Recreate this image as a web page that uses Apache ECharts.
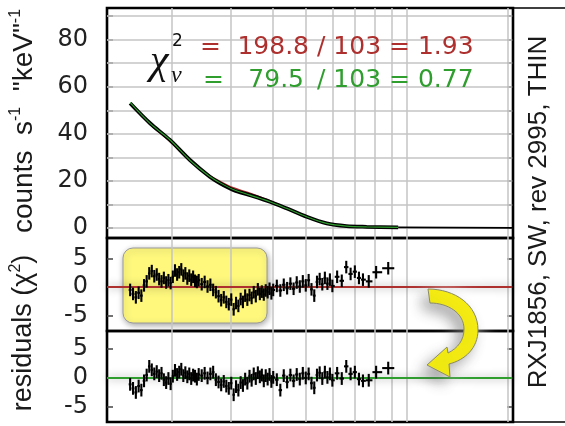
<!DOCTYPE html>
<html><head><meta charset="utf-8">
<script src="https://cdn.jsdelivr.net/npm/echarts@6/dist/echarts.min.js"></script>
<style>html,body{margin:0;padding:0;background:#fff}#c{width:565px;height:426px}</style>
</head><body><div id="c"></div>
<script>
// ---- data ----
const gridEnergies = [0.2,0.3,0.4,0.5,0.6,0.7,0.8,0.9,1,2];
const countGridValues = [0,10,20,30,40,50,60,70,80,90];
const countTickLabels = [0,20,40,60,80];
const residTickLabels = [-5,0,5];

const specEnergy = [0.150,0.172,0.197,0.226,0.259,0.278,0.304,0.341,0.391,0.438,0.503,0.577,0.661,0.759,0.942];
const specCounts = [53.0,44.5,37.4,28.9,21.8,19.0,16.2,14.0,11.2,8.4,4.8,2.0,0.85,0.55,0.3];
const modelRed   = [52.6,44.0,36.8,28.5,22.3,19.8,17.1,14.8,11.6,8.4,4.7,2.0,0.9,0.5,0.3];
const modelGreen = [53.2,44.4,37.5,28.8,21.9,19.2,16.4,14.0,11.2,8.4,4.8,2.0,0.85,0.5,0.3];
const tailEnergy = [0.942,2.07];
const tailCounts = [0.3,0.1];

const resEnergy = [
0.150,0.153,0.156,0.159,0.162,0.165,0.168,0.171,0.174,0.177,
0.180,0.183,0.186,0.189,0.192,0.195,0.198,0.201,0.204,0.207,
0.210,0.213,0.216,0.219,0.222,0.225,0.228,0.231,0.234,0.237,
0.240,
0.245,0.250,0.255,0.260,0.265,0.270,0.275,0.280,0.285,0.290,
0.295,0.300,0.305,0.310,0.315,0.320,0.325,0.330,0.335,0.340,
0.345,0.350,0.355,0.360,0.365,0.370,0.375,0.380,0.385,0.390,
0.395,0.400,
0.41,0.42,0.43,0.44,0.45,0.46,0.47,0.48,0.49,0.50,
0.51,0.52,0.53,0.54,0.55,0.56,0.57,0.58,0.59,0.60,
0.62,0.64,0.66,0.68,0.70,0.72,0.74,0.77,0.81,0.88];
const resRed = [
-0.5,-1.2,-1.8,-1.0,-1.5,0.3,1.0,2.4,2.8,1.9,
2.2,1.4,1.0,1.6,0.8,1.2,0.7,1.8,2.9,2.2,
2.6,3.1,2.0,2.4,1.5,2.0,1.3,1.8,1.1,0.9,
1.2,
0.5,0.9,0.1,0.4,-0.5,-0.9,-1.6,-2.3,-1.8,-2.6,
-3.0,-2.2,-3.9,-2.8,-3.3,-2.1,-2.6,-1.5,-2.2,-1.4,
-1.9,-0.9,-1.6,-0.4,-1.2,-0.8,-1.3,-0.6,-0.9,-0.3,
-1.1,-0.5,
0.2,-0.6,0.4,-0.2,0.6,-0.3,0.8,0.1,1.0,0.3,
1.2,-0.4,-1.5,0.9,1.4,0.5,1.6,0.6,1.3,0.2,
1.8,1.1,3.5,2.3,2.7,1.6,1.3,1.0,2.6,3.3];
const resGreen = [
-1.2,-1.9,-2.6,-1.5,-2.2,-0.6,0.4,1.9,1.3,0.6,
1.0,0.3,0.7,-0.4,-0.9,-0.2,-1.1,0.2,1.2,0.5,
0.9,1.4,0.3,0.8,0.1,0.6,-0.2,0.4,0.2,-0.3,
0.5,
0.3,0.7,-0.1,0.6,0.9,-0.4,-0.8,-1.3,-0.7,-1.5,
-1.9,-1.0,-3.0,-1.6,-2.2,-0.9,-1.4,-0.3,-1.0,0.2,
-0.5,0.6,-0.2,0.8,0.1,0.4,-0.6,0.3,-0.3,0.5,
-0.7,0.0,
-0.4,-2.2,0.3,-0.8,0.4,-0.6,0.5,-0.3,0.7,-0.1,
0.6,-1.0,-1.8,0.4,0.8,-0.2,0.9,0.0,0.6,-0.5,
0.7,-0.2,1.9,0.6,0.9,-0.3,-0.6,-0.5,0.9,1.6];

const chiRed = ['198.8','103','1.93'];
const chiGreen = ['79.5','103','0.77'];
const sideLabel = 'RXJ1856, SW, rev 2995, THIN';

// ---- styles ----
const RED = '#ad302e', GREEN = '#2f9e2f', GRIDC = '#c4c4c4';
const NUMFONT = 'DejaVu Sans';
const zip = (a, b) => a.map((v, i) => [v, b[i]]);

function errItem(energies) {
  return function (params, api) {
    const i = params.dataIndex, n = energies.length;
    const e = energies[i], r = api.value(1);
    let lo = i > 0 ? Math.sqrt(energies[i - 1] * e) : null;
    let hi = i < n - 1 ? Math.sqrt(energies[i + 1] * e) : null;
    if (lo === null) lo = e * e / hi;
    if (hi === null) hi = e * e / lo;
    const a = api.coord([lo, r]), b = api.coord([hi, r]);
    const c = api.coord([e, r - 1.1]), d = api.coord([e, r + 1.1]);
    const st = { stroke: '#000', lineWidth: 2.1 };
    return { type: 'group', children: [
      { type: 'line', shape: { x1: a[0], y1: a[1], x2: b[0], y2: b[1] }, style: st },
      { type: 'line', shape: { x1: c[0], y1: c[1], x2: d[0], y2: d[1] }, style: st }
    ]};
  };
}

const arrowPath = 'M428 289 C455 289 478 305 478 330 C478 348 465 360 449 364 L450 377 L427 365 L447 347 L448 353 C458 348 464 340 464 329 C464 313 448 303 430 303 Z';
function arrowItem() {
  return { type: 'group', children: [
    { type: 'path', shape: { pathData: arrowPath }, style: { fill: 'rgba(255,255,255,0.9)', shadowBlur: 22, shadowColor: 'rgba(255,255,255,1)' } },
    { type: 'path', shape: { pathData: arrowPath },
      style: { fill: '#f6ee12', stroke: '#8a8a6a', lineWidth: 1, shadowBlur: 14, shadowColor: 'rgba(0,0,0,0.35)', shadowOffsetX: -6, shadowOffsetY: 7 } }
  ]};
}

const gridCommon = { left: 107, width: 406, show: true, borderColor: '#000', borderWidth: 2.6, backgroundColor: 'transparent' };
const xCommon = { type: 'log', logBase: 10, min: 0.128, max: 2.07, axisLine: { show: false }, axisTick: { show: false }, axisLabel: { show: false }, splitLine: { show: false } };
function yAx(grid, min, max, labels, ticks, right) {
  return {
    type: 'value', gridIndex: grid, min: min, max: max, position: right ? 'right' : 'left',
    axisLine: { show: false }, splitLine: { show: false },
    axisTick: { show: true, inside: true, length: 6, customValues: ticks, lineStyle: { color: '#444', width: 1.5 } },
    axisLabel: right ? { show: false } : { show: true, customValues: labels, fontFamily: NUMFONT, fontSize: 24, color: '#222', margin: 19 }
  };
}
const vGrid = gridEnergies.map(e => ({ xAxis: e }));
const gridML = (extra) => ({ silent: true, symbol: 'none', z: 1, animation: false, label: { show: false },
  lineStyle: { color: GRIDC, width: 1.5, type: 'solid' }, data: vGrid.concat(extra || []) });
const zeroML = (color) => ({ silent: true, symbol: 'none', z: 2, animation: false, label: { show: false },
  lineStyle: { color: color, width: 2, type: 'solid', shadowBlur: 9, shadowColor: 'rgba(0,0,0,0.45)' }, data: [{ yAxis: 0 }] });

const supStyle = { fontFamily: 'Liberation Sans', fontSize: 16, lineHeight: 32, verticalAlign: 'top', fill: '#1a1a1a' };

const option = {
  animation: false,
  grid: [
    Object.assign({ top: 8, height: 230 }, gridCommon),
    Object.assign({ top: 238, height: 93 }, gridCommon),
    Object.assign({ top: 331, height: 91 }, gridCommon)
  ],
  xAxis: [0, 1, 2].map(g => Object.assign({ gridIndex: g }, xCommon)),
  yAxis: [
    yAx(0, -4.2, 93.4, countTickLabels, countGridValues, false),
    yAx(0, -4.2, 93.4, countTickLabels, countGridValues, true),
    yAx(1, -7.7, 8.6, residTickLabels, residTickLabels, false),
    yAx(1, -7.7, 8.6, residTickLabels, residTickLabels, true),
    yAx(2, -7.7, 8.0, residTickLabels, residTickLabels, false),
    yAx(2, -7.7, 8.0, residTickLabels, residTickLabels, true)
  ],
  series: [
    { type: 'line', xAxisIndex: 0, yAxisIndex: 0, data: [], markLine: gridML(countGridValues.map(v => ({ yAxis: v }))) },
    { type: 'line', xAxisIndex: 1, yAxisIndex: 2, data: [], markLine: gridML() },
    { type: 'line', xAxisIndex: 2, yAxisIndex: 4, data: [], markLine: gridML() },
    { type: 'line', xAxisIndex: 1, yAxisIndex: 2, data: [], markLine: zeroML(RED) },
    { type: 'line', xAxisIndex: 2, yAxisIndex: 4, data: [], markLine: zeroML(GREEN) },
    { type: 'line', xAxisIndex: 0, yAxisIndex: 0, z: 2, data: zip(specEnergy, modelRed), smooth: 0.3, showSymbol: false, lineStyle: { color: RED, width: 1.6 } },
    { type: 'line', xAxisIndex: 0, yAxisIndex: 0, z: 3, data: zip(specEnergy, specCounts), smooth: 0.3, showSymbol: false, lineStyle: { color: '#000', width: 3.8 } },
    { type: 'line', xAxisIndex: 0, yAxisIndex: 0, z: 3, data: zip(tailEnergy, tailCounts), showSymbol: false, lineStyle: { color: '#000', width: 1.6 } },
    { type: 'line', xAxisIndex: 0, yAxisIndex: 0, z: 4, data: zip(specEnergy, modelGreen), smooth: 0.3, showSymbol: false, lineStyle: { color: GREEN, width: 1.1 } },
    { type: 'custom', xAxisIndex: 1, yAxisIndex: 2, z: 3, clip: true, renderItem: errItem(resEnergy), data: zip(resEnergy, resRed) },
    { type: 'custom', xAxisIndex: 2, yAxisIndex: 4, z: 3, clip: true, renderItem: errItem(resEnergy), data: zip(resEnergy, resGreen) },
    { type: 'custom', xAxisIndex: 1, yAxisIndex: 2, z: 100, clip: false, silent: true, renderItem: arrowItem, data: [[1, 0]] }
  ],
  graphic: [
    { type: 'rect', z: 0, shape: { x: 123, y: 248, width: 144, height: 75, r: 10 },
      style: { fill: '#fff87d', stroke: '#9a9a9a', lineWidth: 1, shadowBlur: 6, shadowColor: 'rgba(0,0,0,0.35)', shadowOffsetX: 1, shadowOffsetY: 2 } },
    { type: 'rect', z: 5, shape: { x: 513, y: 8, width: 60, height: 414 }, style: { fill: 'none', stroke: '#000', lineWidth: 1.5 } },
    // chi-square symbol
    { type: 'text', z: 20, x: 150, y: 62, style: { text: 'χ', fontFamily: 'Liberation Serif', fontStyle: 'italic', fontSize: 42, fill: '#111', align: 'left', verticalAlign: 'middle' } },
    { type: 'text', z: 20, x: 172, y: 42, style: { text: '2', fontFamily: NUMFONT, fontSize: 17, fill: '#111', align: 'left', verticalAlign: 'middle' } },
    { type: 'text', z: 20, x: 171, y: 76, style: { text: 'ν', fontFamily: 'Liberation Serif', fontStyle: 'italic', fontSize: 24, fill: '#111', align: 'left', verticalAlign: 'middle' } },
    // red line
    { type: 'text', z: 20, x: 200, y: 47, style: { text: '=', fontFamily: NUMFONT, fontSize: 25, fill: RED, align: 'left', verticalAlign: 'middle' } },
    { type: 'text', z: 20, x: 309, y: 47, style: { text: chiRed[0], fontFamily: NUMFONT, fontSize: 25, fill: RED, align: 'right', verticalAlign: 'middle' } },
    { type: 'text', z: 20, x: 317, y: 47, style: { text: '/ ' + chiRed[1] + ' = ' + chiRed[2], fontFamily: NUMFONT, fontSize: 25, fill: RED, align: 'left', verticalAlign: 'middle' } },
    // green line
    { type: 'text', z: 20, x: 203, y: 80, style: { text: '=', fontFamily: NUMFONT, fontSize: 25, fill: GREEN, align: 'left', verticalAlign: 'middle' } },
    { type: 'text', z: 20, x: 304, y: 80, style: { text: chiGreen[0], fontFamily: NUMFONT, fontSize: 25, fill: GREEN, align: 'right', verticalAlign: 'middle' } },
    { type: 'text', z: 20, x: 317, y: 80, style: { text: '/ ' + chiGreen[1] + ' = ' + chiGreen[2], fontFamily: NUMFONT, fontSize: 25, fill: GREEN, align: 'left', verticalAlign: 'middle' } },
    // axis titles
    { type: 'text', z: 20, x: 24, y: 121, rotation: Math.PI / 2,
      style: { text: 'counts  s{sup|-1}  "keV"{sup|-1}', fontFamily: 'Liberation Sans', fontSize: 28, lineHeight: 32, fill: '#1a1a1a', align: 'center', verticalAlign: 'middle',
        rich: { sup: supStyle } } },
    { type: 'text', z: 20, x: 24, y: 333, rotation: Math.PI / 2,
      style: { text: 'residuals (χ{sup|2})', fontFamily: 'Liberation Sans', fontSize: 27, lineHeight: 32, fill: '#1a1a1a', align: 'center', verticalAlign: 'middle',
        rich: { sup: supStyle } } },
    { type: 'text', z: 20, x: 539, y: 212, rotation: Math.PI / 2,
      style: { text: sideLabel, fontFamily: 'Liberation Sans', fontSize: 26, fill: '#1a1a1a', align: 'center', verticalAlign: 'middle' } }
  ]
};
const chart = echarts.init(document.getElementById('c'), null, { renderer: 'canvas' });
chart.setOption(option);
</script></body></html>
